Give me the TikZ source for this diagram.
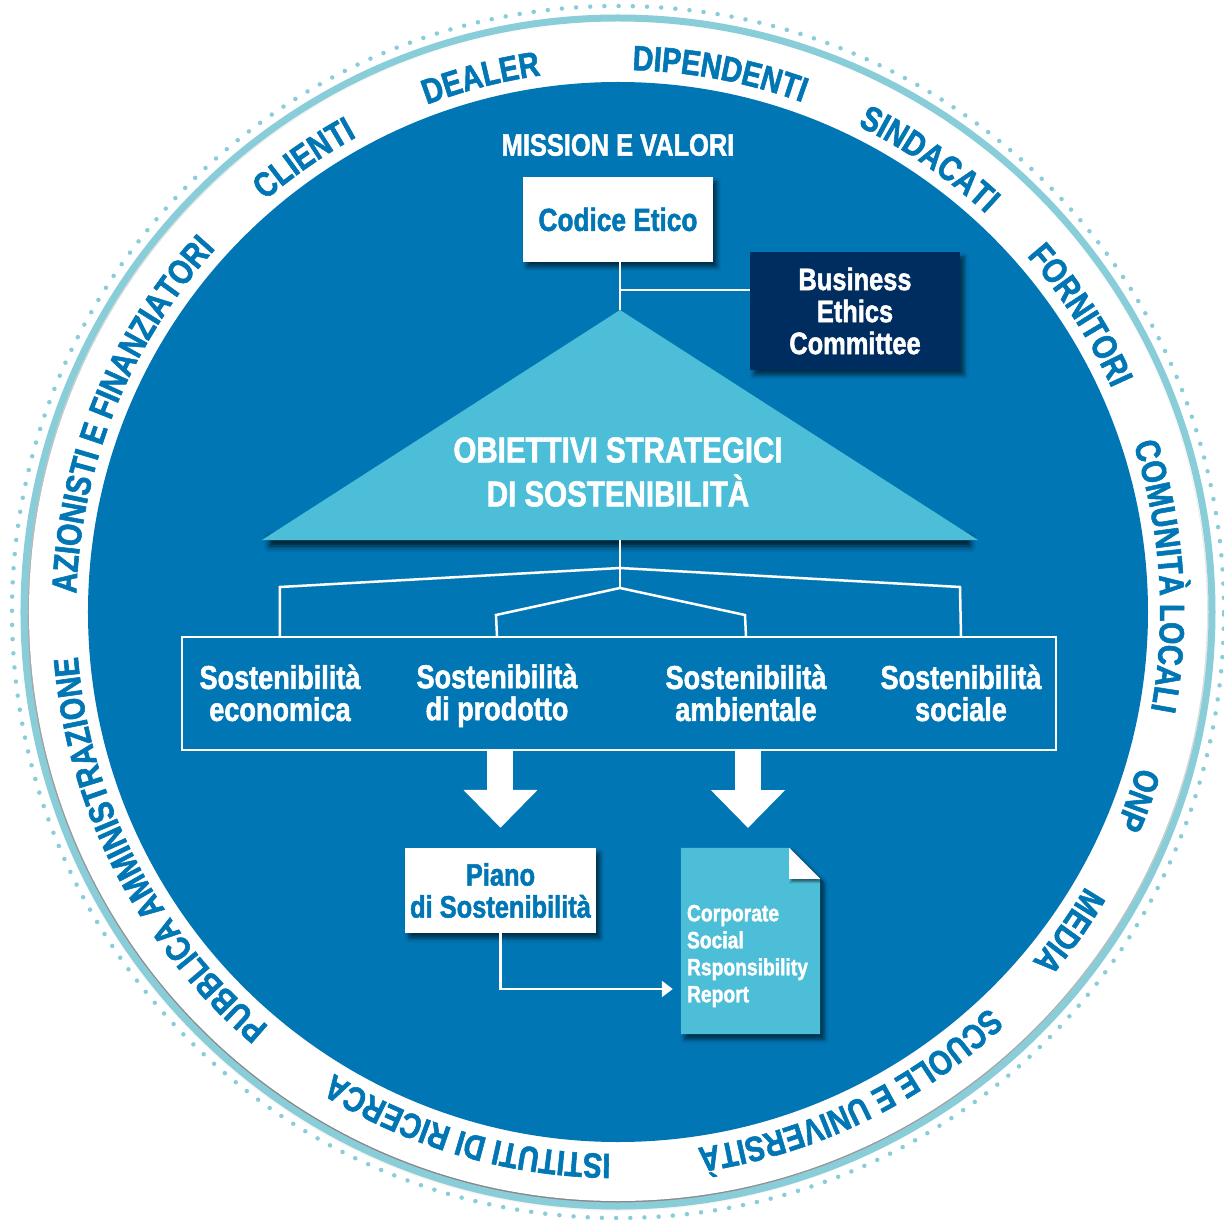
\documentclass[tikz,border=0pt]{standalone}
\usepackage{fontspec}
\usepackage{tikz}
\usetikzlibrary{arrows.meta,positioning,shadows.blur,decorations.text}

\newfontfamily\cond{Liberation Sans}[FakeStretch=0.82, BoldFeatures={FakeBold=1.6}]

\definecolor{diskblue}{RGB}{0,118,180}
\definecolor{skyblue}{RGB}{77,190,216}
\definecolor{ringcyan}{RGB}{136,205,216}
\definecolor{navyblue}{RGB}{0,45,95}

\newcommand\ringfont{\cond\bfseries\fontsize{35}{35}\selectfont}

% label set on the ring, centred on angle #1
\newcommand\ringlabel[2]{%
  \path[decorate, decoration={text along path, text align=center,
      text color=diskblue, text={|\ringfont|#2}}]
    ({#1+70}:542) arc[start angle={#1+70}, end angle={#1-70}, radius=542];}

\tikzset{
  boxshadow/.style={blur shadow={shadow xshift=4pt, shadow yshift=-5pt,
      shadow blur radius=4pt, shadow opacity=60}},
  plainbox/.style={fill=white, text=diskblue, align=center, inner sep=0pt, boxshadow},
  pillartext/.style={text=white, align=center, inner sep=0pt,
      font=\cond\bfseries\fontsize{33}{32}\selectfont},
  link/.style={draw=white, line width=2.5pt},
  bigarrow/.style={draw=white, line width=26pt, -{Triangle[length=38pt, width=72pt]}},
}

\begin{document}
\begin{tikzpicture}[x=1pt, y=1pt]
  \useasboundingbox (-618,-609) rectangle (606,612);

  % outer ring
  \draw[ringcyan, line width=4.5pt, line cap=round, dash pattern=on 0pt off 14.2pt] (0,0) circle[radius=606];
  \fill[white, blur shadow={shadow xshift=-2pt, shadow yshift=-5pt, shadow blur radius=5pt, shadow opacity=50}]
    (0,0) circle[radius=589];
  \draw[ringcyan, line width=7pt] (0,0) circle[radius=594];
  \fill[diskblue] (0,0) circle[radius=530];

  % stakeholders
  \ringlabel{158}{AZIONISTI E FINANZIATORI}
  \ringlabel{124.7}{CLIENTI}
  \ringlabel{104.4}{DEALER}
  \ringlabel{79.3}{DIPENDENTI}
  \ringlabel{55.5}{SINDACATI}
  \ringlabel{32.7}{FORNITORI}
  \ringlabel{3.8}{COMUNITÀ LOCALI}
  \ringlabel{-19.9}{ONP}
  \ringlabel{-35.3}{MEDIA}
  \ringlabel{-64.2}{SCUOLE E UNIVERSITÀ}
  \ringlabel{-106.2}{ISTITUTI DI RICERCA}
  \ringlabel{-152.7}{PUBBLICA AMMINISTRAZIONE}

  % mission and code of ethics
  \node[text=white, font=\cond\bfseries\fontsize{31}{31}\selectfont] (mission) at (0,467) {MISSION E VALORI};
  \node[plainbox, minimum width=190pt, minimum height=85pt,
        font=\cond\bfseries\fontsize{32}{32}\selectfont] (codice) at (0,392.5) {Codice Etico};
  \node[fill=navyblue, text=white, align=center, inner sep=0pt, boxshadow,
        minimum width=210pt, minimum height=118pt,
        font=\cond\bfseries\fontsize{31}{32}\selectfont] (bec) at (237,301) {Business\\Ethics\\Committee};

  % strategic goals
  \coordinate (apex) at (2,302);
  \coordinate (baseL) at (-356,72);
  \coordinate (baseR) at (360,72);
  \coordinate (baseC) at (2,72);
  \path[blur shadow={shadow xshift=0pt, shadow yshift=-6pt, shadow blur radius=6pt, shadow opacity=80}]
    ([xshift=8pt]baseL) rectangle ([xshift=-8pt,yshift=8pt]baseR);
  \fill[skyblue] (apex) -- (baseR) -- (baseL) -- cycle;
  \node[text=white, align=center, font=\cond\bfseries\fontsize{36}{44}\selectfont] (goals) at (0,140)
    {OBIETTIVI STRATEGICI\\DI SOSTENIBILITÀ};

  \coordinate (tee) at (2,322);
  \draw[link] (codice.south -| apex) -- (apex);
  \draw[link] (tee) -- (tee -| bec.west);

  % sustainability pillars
  \node[draw=white, line width=2pt, minimum width=874pt, minimum height=113pt] (pillars) at (1,-81.5) {};
  \node[pillartext] (eco) at (-338,-81) {Sostenibilità\\economica};
  \node[pillartext] (prod) at (-121,-83.5) {Sostenibilità\\di prodotto};
  \node[pillartext] (amb) at (128,-81) {Sostenibilità\\ambientale};
  \node[pillartext] (soc) at (343,-81) {Sostenibilità\\sociale};

  \coordinate (outer) at (2,44);
  \coordinate (inner) at (2,24);
  \draw[link] (baseC) -- (inner);
  \draw[link] (outer) -- (-338,25) -- (eco |- pillars.north);
  \draw[link] (outer) -- (342,25) -- (soc |- pillars.north);
  \draw[link] (inner) -- (-122,-3) -- (prod |- pillars.north);
  \draw[link] (inner) -- (127,-3) -- (amb |- pillars.north);

  % plan and report
  \node[plainbox, minimum width=191pt, minimum height=85pt,
        font=\cond\bfseries\fontsize{31}{32}\selectfont] (piano) at (-117.5,-278.5) {Piano\\di Sostenibilità};
  \node[minimum width=139pt, minimum height=186pt, inner sep=0pt] (doc) at (132.5,-329) {};
  \fill[skyblue, boxshadow] (doc.south west) -- (doc.north west) -- ([xshift=-31pt]doc.north east)
    -- ([yshift=-31pt]doc.north east) -- (doc.south east) -- cycle;
  \fill[white, blur shadow={shadow xshift=2pt, shadow yshift=-3pt, shadow blur radius=2pt, shadow opacity=50}]
    ([xshift=-31pt]doc.north east) -- ([xshift=-31pt,yshift=-31pt]doc.north east)
    -- ([yshift=-31pt]doc.north east) -- cycle;
  \node[text=white, align=left, anchor=west, inner sep=0pt,
        font=\cond\bfseries\fontsize{23.5}{27}\selectfont] (report) at ([xshift=6pt,yshift=-15pt]doc.west)
    {Corporate\\Social\\Rsponsibility\\Report};

  \draw[bigarrow] (pillars.south -| piano.north) -- ([yshift=20pt]piano.north);
  \draw[bigarrow] (pillars.south -| 130,0) -- (130,-216);
  \draw[link, -{Triangle[length=11pt, width=16pt]}] (piano.south) |- ([xshift=-8pt, yshift=-48pt]doc.west);
\end{tikzpicture}
\end{document}
